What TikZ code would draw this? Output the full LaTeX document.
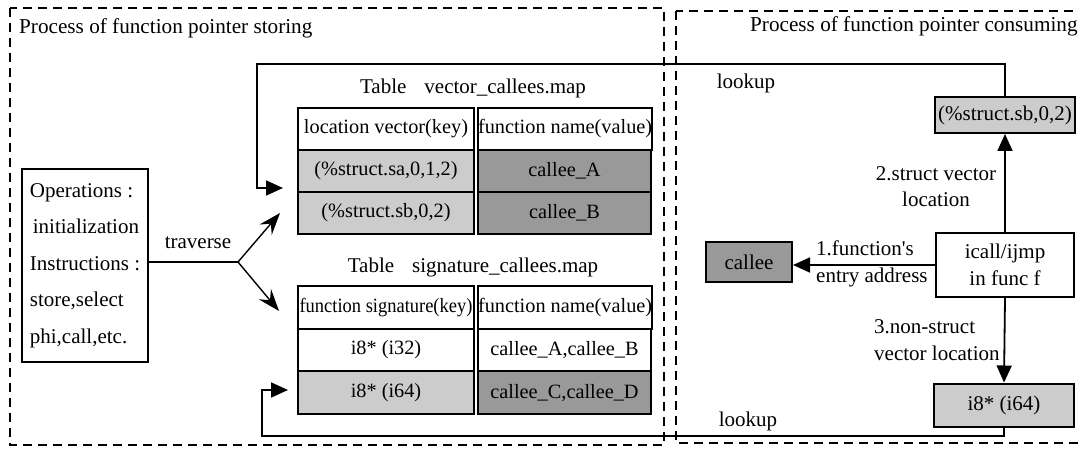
\documentclass[tikz,border=0pt]{standalone}
\usepackage{fontspec}
\setmainfont{Liberation Serif}
% same family without the TeX input mapping, for a straight apostrophe
\newfontfamily\rawserif{Liberation Serif}
\usetikzlibrary{arrows.meta}
\definecolor{lightcell}{HTML}{CCCCCC}
\definecolor{darkcell}{HTML}{999999}

\begin{document}
\begin{tikzpicture}[x=1pt,y=-1pt,
  txt/.style={font=\fontsize{21}{26}\selectfont, inner sep=0pt},
  titletxt/.style={font=\fontsize{21.2}{25}\selectfont, inner sep=0pt},
  frame/.style={draw, line width=1.8pt, dash pattern=on 9pt off 6pt},
  cellbox/.style={draw, line width=2pt, anchor=north west, inner sep=0pt,
    font=\fontsize{20.3}{25}\selectfont},
  keycell/.style={cellbox, minimum width=176pt},
  valcell/.style={cellbox, minimum width=173pt},
  plainbox/.style={draw, line width=2pt, inner sep=0pt,
    font=\fontsize{21}{26}\selectfont},
  conn/.style={line width=1.8pt},
  tri/.style={conn, -{Triangle[length=17pt,width=15pt]}},
  barb/.style={line width=1.4pt, -{Stealth[length=22pt,width=16pt,inset=8pt]}}
]
\useasboundingbox (0,0) rectangle (1079,449);

% dashed frames of the two phases
\draw[frame] (10,8) rectangle (664,445);
\draw[frame] (676,11) rectangle (1095,443);
\node[titletxt, anchor=base west] (titleL) at (19,34) {Process of function pointer storing};
\node[titletxt, anchor=base west] (titleR) at (750,32) {Process of function pointer consuming};

% operations box
\node[plainbox, minimum width=126pt, minimum height=193pt, align=left,
  font=\fontsize{21}{36.5}\selectfont] (ops) at (85,265.5)
  {Operations :\\\hspace{3pt}initialization\\Instructions :\\store,select\\phi,call,etc.};

% traverse fork
\coordinate (fork) at (238,262);
\coordinate (tvtop) at (280,213);
\coordinate (tvbot) at (279,311);
\draw[line width=1.4pt] (ops.east |- fork) -- (fork);
\draw[barb] (fork) -- (tvtop);
\draw[barb] (fork) -- (tvbot);
\node[txt] (travlbl) at (198,243) {traverse};

% table vector_callees.map
\node[txt] (t1title) at (473,88) {Table\hspace{18pt}vector\_callees.map};
\node[keycell, minimum height=42pt] (a0) at (297,107) {location vector(key)};
\node[valcell, minimum height=42pt] (b0) at (477,107) {function name(value)};
\node[keycell, minimum height=42pt, fill=lightcell] (a1) at (297,149) {(\%struct.sa,0,1,2)};
\node[valcell, minimum height=42pt, fill=darkcell] (b1) at (477,149) {callee\_A};
\node[keycell, minimum height=42pt, fill=lightcell] (a2) at (297,191) {(\%struct.sb,0,2)};
\node[valcell, minimum height=42pt, fill=darkcell] (b2) at (477,191) {callee\_B};

% table signature_callees.map
\node[txt] (t2title) at (473,267) {Table\hspace{18pt}signature\_callees.map};
\node[keycell, minimum height=42.7pt] (c0) at (297,285) {\scalebox{0.91}[1]{function signature(key)}};
\node[valcell, minimum height=42.7pt] (d0) at (477,285) {function name(value)};
\node[keycell, minimum height=42.7pt] (c1) at (297,327.7) {i8* (i32)};
\node[valcell, minimum height=42.7pt] (d1) at (477,327.7) {callee\_A,callee\_B};
\node[keycell, minimum height=42.7pt, fill=lightcell] (c2) at (297,370.3) {i8* (i64)};
\node[valcell, minimum height=42.7pt, fill=darkcell] (d2) at (477,370.3) {callee\_C,callee\_D};

% consuming side
\node[plainbox, fill=lightcell, minimum width=140pt, minimum height=36pt] (sbkey) at (1005,115) {(\%struct.sb,0,2)};
\node[plainbox, minimum width=138pt, minimum height=64pt, align=center,
  font=\fontsize{21}{27}\selectfont] (icall) at (1005,265) {icall/ijmp\\in func f};
\node[plainbox, fill=darkcell, minimum width=86pt, minimum height=40pt] (callee) at (749,262) {callee};
\node[plainbox, fill=lightcell, minimum width=140pt, minimum height=43pt] (sigkey) at (1004,405) {i8* (i64)};

\draw[tri] (icall.north) -- (sbkey.south);
\draw[tri] (icall.south) -- (sigkey.north);
\draw[tri] (icall.west) -- (icall.west -| callee.east);

\node[txt, align=center] (lbl2) at (936,187) {2.struct vector\\location};
\node[txt, align=left, anchor=west, font=\rawserif\fontsize{21}{27}\selectfont] (lbl1) at (816,264) {1.function's\\entry address};
\node[txt, align=left, anchor=west, font=\fontsize{21}{27}\selectfont] (lbl3) at (874,340) {3.non-struct\\vector location};

% lookup feedback paths
\coordinate (upcorner) at (257,64);
\coordinate (uptip) at (283,188);
\draw[tri] (sbkey.north) |- (upcorner) |- (uptip);
\node[txt] (lookup1) at (746,83) {lookup};

\coordinate (lowcorner) at (262,436);
\coordinate (lowtip) at (288,390);
\draw[tri] (sigkey.south) |- (lowcorner) |- (lowtip);
\node[txt] (lookup2) at (748,421) {lookup};
\end{tikzpicture}
\end{document}
